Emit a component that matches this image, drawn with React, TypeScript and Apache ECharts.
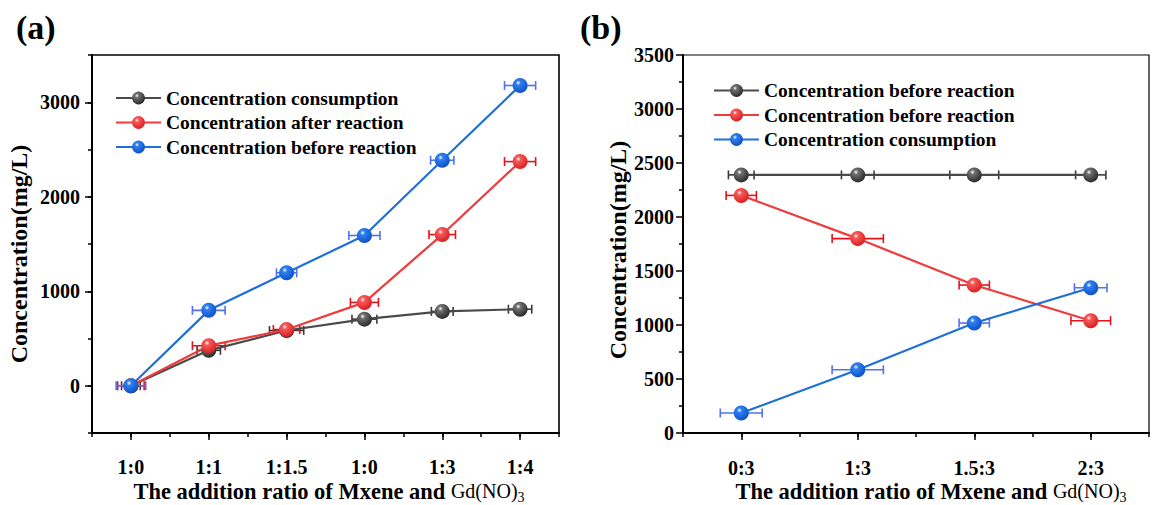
import React, { useEffect, useRef } from "react";
import * as echarts from "echarts";

const categoriesA = ["1:0", "1:1", "1:1.5", "1:0", "1:3", "1:4"];
const consumptionA = [0, 375, 585, 705, 787, 810];
const afterA = [0, 424, 595, 882, 1600, 2372];
const beforeA = [0, 798, 1195, 1590, 2386, 3177];
const consumptionErrA = [0.12, 0.15, 0.22, 0.16, 0.14, 0.15];
const afterErrA = [0.17, 0.21, 0.17, 0.18, 0.17, 0.2];
const beforeErrA = [0.19, 0.21, 0.13, 0.2, 0.15, 0.2];
const yTicksA = [0, 1000, 2000, 3000];

const categoriesB = ["0:3", "1:3", "1.5:3", "2:3"];
const beforeB = [2390, 2390, 2390, 2390];
const afterB = [2200, 1800, 1370, 1040];
const consumptionB = [185, 586, 1018, 1345];
const beforeErrB = [0.11, 0.14, 0.21, 0.13];
const afterErrB = [0.13, 0.22, 0.13, 0.17];
const consumptionErrB = [0.18, 0.22, 0.13, 0.14];

const serif = '"Liberation Serif", "Times New Roman", serif';

const GRAY = { line: "#4a4a4a", c0: "#707070", c1: "#262626", err: "#3a3a3a" };
const RED = { line: "#ee3b3b", c0: "#f65a5a", c1: "#d81c1c", err: "#e3121c" };
const BLUE = { line: "#1f6fd8", c0: "#2f80f0", c1: "#0a4fc4", err: "#5272ee" };

function ball(c: any) {
  return {
    type: "radial",
    x: 0.38,
    y: 0.32,
    r: 0.72,
    colorStops: [
      { offset: 0, color: "#ffffff" },
      { offset: 0.22, color: c.c0 },
      { offset: 1, color: c.c1 },
    ],
  };
}

function lineSeries(name: string, values: number[], c: any, axis: number) {
  return {
    type: "line",
    name,
    xAxisIndex: axis,
    yAxisIndex: axis,
    data: values.map((v, i) => [i, v]),
    symbol: "circle",
    symbolSize: 15,
    itemStyle: { color: ball(c) },
    lineStyle: { color: c.line, width: 2.2 },
    z: 3,
  };
}

function errSeries(values: number[], errs: number[], c: any, axis: number) {
  return {
    type: "custom",
    xAxisIndex: axis,
    yAxisIndex: axis,
    z: 2,
    silent: true,
    data: values.map((v, i) => [i, v, errs[i]]),
    encode: { x: 0, y: 1 },
    renderItem: (params: any, api: any) => {
      const x = api.value(0);
      const y = api.value(1);
      const e = api.value(2);
      const p1 = api.coord([x - e, y]);
      const p2 = api.coord([x + e, y]);
      const h = 4.5;
      const st = { stroke: c.err, lineWidth: 1.6 };
      return {
        type: "group",
        children: [
          { type: "line", shape: { x1: p1[0], y1: p1[1], x2: p2[0], y2: p2[1] }, style: st },
          { type: "line", shape: { x1: p1[0], y1: p1[1] - h, x2: p1[0], y2: p1[1] + h }, style: st },
          { type: "line", shape: { x1: p2[0], y1: p2[1] - h, x2: p2[0], y2: p2[1] + h }, style: st },
        ],
      };
    },
  };
}

const tickLabel = { fontFamily: serif, fontWeight: "bold", fontSize: 20, color: "#000" };

function xTitle(x: number) {
  return {
    type: "text", x, y: 491,
    style: {
      text: "{b|The addition ratio of Mxene and }{n|Gd(NO)}{s|3}",
      align: "center", verticalAlign: "middle",
      rich: {
        b: { fontFamily: serif, fontWeight: "bold", fontSize: 22.5, fill: "#000", lineHeight: 26 },
        n: { fontFamily: serif, fontSize: 20, fill: "#000", lineHeight: 26 },
        s: { fontFamily: serif, fontSize: 14, fill: "#000", lineHeight: 26, padding: [12, 0, 0, 0] },
      },
    },
  };
}

function yTitle(x: number, y: number) {
  return {
    type: "text", x, y, rotation: Math.PI / 2,
    style: { text: "Concentration(mg/L)", fontFamily: serif, fontWeight: "bold", fontSize: 24, fill: "#000", align: "center", verticalAlign: "middle" },
  };
}

export default function App() {
  const ref = useRef<HTMLDivElement>(null);
  useEffect(() => {
    const chart = echarts.init(ref.current!, null, { renderer: "svg" });
    const axisLine = { show: true, onZero: false, lineStyle: { color: "#000", width: 2 } };
    const noLine = { show: false, onZero: false };
    const tickStyle = { color: "#000", width: 1.5 };
    const legendText = { fontFamily: serif, fontWeight: "bold", fontSize: 19.5, color: "#000", lineHeight: 20 };
    const option: any = {
      animation: false,
      backgroundColor: "#fff",
      grid: [
        { left: 92, top: 55, width: 467, height: 378, show: true, borderColor: "#000", borderWidth: 1.6, containLabel: false },
        { left: 683, top: 55, width: 468, height: 378, show: true, borderColor: "#000", borderWidth: 1.2, containLabel: false },
      ],
      xAxis: [
        {
          type: "value", gridIndex: 0, position: "bottom", min: -0.5, max: 5.5, interval: 0.5,
          axisLine, splitLine: { show: false },
          axisTick: { show: true, length: 4, lineStyle: tickStyle },
          axisLabel: { ...tickLabel, margin: 24, formatter: (v: number) => (Number.isInteger(v) && v >= 0 ? categoriesA[v] ?? "" : "") },
        },
        {
          type: "value", gridIndex: 0, position: "bottom", min: -0.5, max: 5.5,
          axisLine: noLine, splitLine: { show: false }, axisLabel: { show: false },
          axisTick: { show: true, length: 7, customValues: categoriesA.map((_, i) => i), lineStyle: tickStyle },
        },
        {
          type: "value", gridIndex: 1, position: "bottom", min: -0.5, max: 3.5, interval: 0.5,
          axisLine, splitLine: { show: false },
          axisTick: { show: true, length: 4, lineStyle: tickStyle },
          axisLabel: { ...tickLabel, margin: 25, formatter: (v: number) => (Number.isInteger(v) && v >= 0 ? categoriesB[v] ?? "" : "") },
        },
        {
          type: "value", gridIndex: 1, position: "bottom", min: -0.5, max: 3.5,
          axisLine: noLine, splitLine: { show: false }, axisLabel: { show: false },
          axisTick: { show: true, length: 7, customValues: categoriesB.map((_, i) => i), lineStyle: tickStyle },
        },
      ],
      yAxis: [
        {
          type: "value", gridIndex: 0, position: "left", min: -500, max: 3500, interval: 500,
          axisLine, splitLine: { show: false },
          axisTick: { show: true, length: 4, lineStyle: tickStyle },
          axisLabel: { ...tickLabel, margin: 12, formatter: (v: number) => (yTicksA.includes(v) ? String(v) : "") },
        },
        {
          type: "value", gridIndex: 0, position: "left", min: -500, max: 3500,
          axisLine: noLine, splitLine: { show: false }, axisLabel: { show: false },
          axisTick: { show: true, length: 7, customValues: yTicksA, lineStyle: tickStyle },
        },
        {
          type: "value", gridIndex: 1, position: "left", min: 0, max: 3500, interval: 500,
          axisLine, splitLine: { show: false },
          axisTick: { show: true, length: 7, lineStyle: tickStyle },
          minorTick: { show: true, splitNumber: 2, length: 4, lineStyle: tickStyle },
          axisLabel: { ...tickLabel, margin: 9, formatter: (v: number) => String(v) },
        },
      ],
      legend: [
        {
          orient: "vertical", left: 115, top: 88, padding: 0, itemWidth: 45, itemHeight: 16, itemGap: 4.5,
          textStyle: legendText,
          data: ["Concentration consumption", "Concentration after reaction", "Concentration before reaction"],
          selectedMode: false,
        },
        {
          orient: "vertical", left: 713, top: 80.5, padding: 0, itemWidth: 45, itemHeight: 16, itemGap: 4.5,
          textStyle: legendText,
          data: ["Concentration before reaction\u200b", "Concentration before reaction\u200b\u200b", "Concentration consumption\u200b"],
          selectedMode: false,
        },
      ],
      series: [
        errSeries(consumptionA, consumptionErrA, GRAY, 0),
        errSeries(afterA, afterErrA, RED, 0),
        errSeries(beforeA, beforeErrA, BLUE, 0),
        lineSeries("Concentration consumption", consumptionA, GRAY, 0),
        lineSeries("Concentration after reaction", afterA, RED, 0),
        lineSeries("Concentration before reaction", beforeA, BLUE, 0),
        errSeries(beforeB, beforeErrB, GRAY, 2),
        errSeries(afterB, afterErrB, RED, 2),
        errSeries(consumptionB, consumptionErrB, BLUE, 2),
        lineSeries("Concentration before reaction\u200b", beforeB, GRAY, 2),
        lineSeries("Concentration before reaction\u200b\u200b", afterB, RED, 2),
        lineSeries("Concentration consumption\u200b", consumptionB, BLUE, 2),
      ],
      graphic: [
        { type: "text", left: 16, top: 10, style: { text: "(a)", fontFamily: serif, fontWeight: "bold", fontSize: 34, fill: "#000" } },
        { type: "text", left: 580, top: 10, style: { text: "(b)", fontFamily: serif, fontWeight: "bold", fontSize: 34, fill: "#000" } },
        yTitle(19, 254),
        yTitle(618, 250),
        xTitle(329),
        xTitle(931),
      ],
    };
    chart.setOption(option);
    return () => chart.dispose();
  }, []);
  return <div ref={ref} style={{ position: "fixed", left: 0, top: 0, width: 1152, height: 505 }} />;
}
